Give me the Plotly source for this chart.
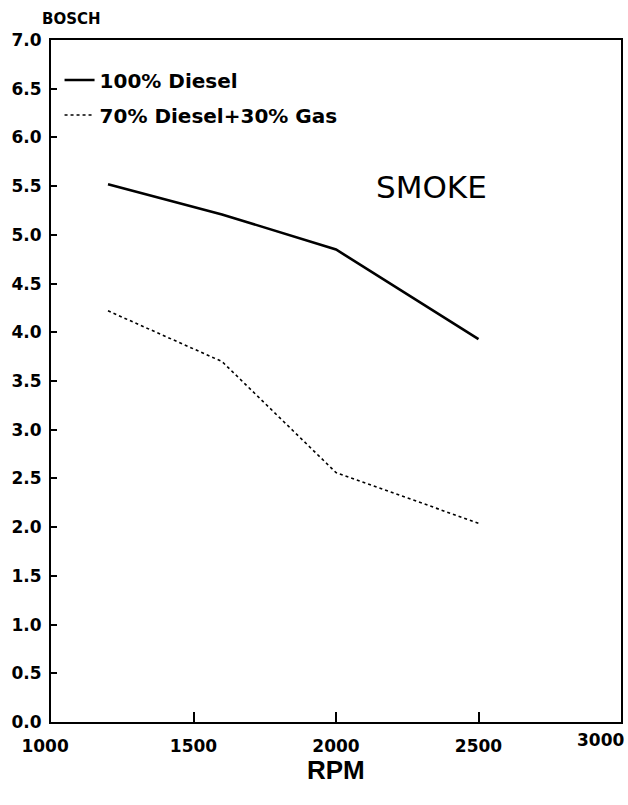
import plotly.graph_objects as go

rpm = [1200, 1600, 2000, 2500]
smoke_diesel = [5.52, 5.21, 4.85, 3.93]
smoke_dual = [4.22, 3.70, 2.56, 2.04]

NB = "\u00a0"
x_ticks = [1000, 1500, 2000, 2500, 3000]
x_labels = ["1000" + NB * 2, "1500", "2000", "2500", ""]
last_x_label = "3000"
y_ticks = [i * 0.5 for i in range(15)]
y_labels = [f"{v:.1f}" for v in y_ticks]

name_diesel = "100% Diesel"
name_dual = "70% Diesel+30% Gas"

FONT = "DejaVu Sans"

fig = go.Figure()
fig.add_trace(go.Scatter(x=rpm, y=smoke_diesel, mode="lines", name=name_diesel,
                         legendgroup="a",
                         line=dict(color="black", width=2.6)))
fig.add_trace(go.Scatter(x=rpm, y=smoke_dual, mode="lines", name=name_dual,
                         legendgroup="b",
                         line=dict(color="black", width=1.6, dash="dot")))

fig.update_layout(
    width=628, height=805,
    margin=dict(l=51, r=7, t=40, b=83, autoexpand=False),
    paper_bgcolor="white", plot_bgcolor="white",
    font=dict(family=FONT, color="black"),
    showlegend=True,
    legend=dict(x=0.015, y=0.97, xanchor="left", yanchor="top",
                bgcolor="rgba(0,0,0,0)", tracegroupgap=6,
                font=dict(family=FONT, size=20, color="black", weight="bold")),
    xaxis=dict(range=[1000, 3000], tickvals=x_ticks, ticktext=x_labels,
               ticks="inside", ticklen=10, tickwidth=2, tickcolor="black",
               showline=True, linewidth=2, linecolor="black", mirror=True,
               showgrid=False, zeroline=False, ticklabelstandoff=8,
               ticklabeloverflow="allow",
               automargin=False,
               tickfont=dict(family=FONT, size=17, weight="bold", color="black")),
    yaxis=dict(range=[0, 7], tickvals=y_ticks, ticktext=y_labels,
               ticks="inside", ticklen=6, tickwidth=2, tickcolor="black",
               showline=True, linewidth=2, linecolor="black", mirror=True,
               showgrid=False, zeroline=False, ticklabelstandoff=4,
               ticklabeloverflow="allow",
               automargin=False,
               tickfont=dict(family=FONT, size=17, weight="bold", color="black")),
    annotations=[
        dict(text=last_x_label, xref="x", yref="paper", x=x_ticks[-1], y=0,
             xanchor="right", yanchor="top", xshift=5, yshift=-6, showarrow=False,
             font=dict(family=FONT, size=17, weight="bold", color="black")),
        dict(text="BOSCH", xref="paper", yref="paper", x=-0.02, y=1.0,
             xanchor="left", yanchor="bottom", yshift=10, showarrow=False,
             font=dict(family=FONT, size=15, weight="bold", color="black")),
        dict(text="SMOKE", xref="paper", yref="paper", x=0.668, y=0.784,
             xanchor="center", yanchor="middle", showarrow=False,
             font=dict(family=FONT, size=31, color="black")),
        dict(text="RPM", xref="paper", yref="paper", x=0.5, y=-0.071,
             xanchor="center", yanchor="middle", showarrow=False,
             font=dict(family="Liberation Sans", size=26, weight="bold", color="black")),
    ],
)

fig.write_html(
    "out.html",
    config={"displayModeBar": False},
    post_script="document.body.style.margin='0';document.body.style.overflow='hidden';",
)
